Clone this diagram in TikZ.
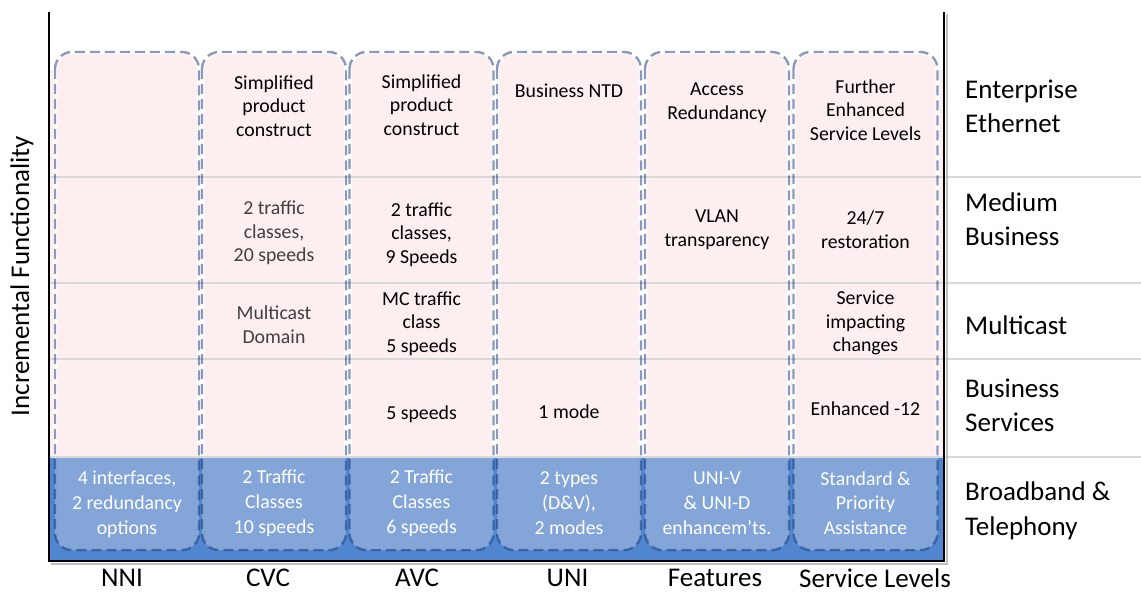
\documentclass[tikz,border=0pt]{standalone}
\usepackage{fontspec}
\setmainfont{Carlito}
\definecolor{pinkc}{RGB}{253,239,239}
\definecolor{bandc}{RGB}{79,134,207}
\definecolor{dashc}{RGB}{20,50,120}
\definecolor{gridc}{RGB}{217,217,217}
\definecolor{greytext}{RGB}{64,64,64}
\newcommand{\cellsize}{\fontsize{19.8pt}{23.5pt}\selectfont}
\newcommand{\bandsize}{\fontsize{19.8pt}{24.8pt}\selectfont}
\newcommand{\bigsize}{\fontsize{27pt}{34.5pt}\selectfont}
\begin{document}
\begin{tikzpicture}[x=1pt,y=-1pt,
  colbox/.style={rectangle, rounded corners=17pt, fill=pinkc, draw=white, line width=4pt,
    inner sep=0pt, outer sep=0pt, minimum width=144pt, minimum height=498pt},
  dashbox/.style={draw=dashc, draw opacity=0.5, line width=2.4pt, dash pattern=on 10pt off 5pt, rounded corners=17pt},
  cell/.style={font=\cellsize, align=center, inner sep=0pt},
  bandtext/.style={font=\bandsize, align=center, inner sep=0pt, text=white},
  rowlabel/.style={font=\bigsize, align=left, anchor=west, inner sep=0pt},
  collabel/.style={font=\bigsize, inner sep=0pt},
  gridline/.style={draw=gridc, line width=1.5pt},
  axisline/.style={draw=black, line width=2.5pt},
  shadowline/.style={draw=black!25, line width=2pt}]
\useasboundingbox (0,0) rectangle (1141,596);
% pink background of upper rows
\fill[pinkc] (50,70) rectangle (943,457);
% column boxes
\node[colbox] (c1) at (127,301) {};
\node[colbox] (c2) at (274,301) {};
\node[colbox] (c3) at (421.5,301) {};
\node[colbox] (c4) at (569,301) {};
\node[colbox] (c5) at (717,301) {};
\node[colbox] (c6) at (865.5,301) {};
% broadband band
\fill[bandc] (50,457) rectangle (943,560);
\begin{scope}
  \clip (50,457) rectangle (943,560);
  \foreach \c in {c1,c2,c3,c4,c5,c6}
    \fill[pinkc, fill opacity=0.3, rounded corners=17pt] (\c.north west) rectangle (\c.south east);
\end{scope}
% grid lines
\draw[gridline] (50,177) -- (1141,177);
\draw[gridline] (50,283) -- (1141,283);
\draw[gridline] (50,359) -- (1141,359);
\draw[gridline] (50,457) -- (1141,457);
% dashed outlines
\foreach \c in {c1,c2,c3,c4,c5,c6}
  \draw[dashbox] (\c.north west) rectangle (\c.south east);
% axes
\coordinate (ytop) at (49,12);
\coordinate (origin) at (49,561);
\coordinate (xend) at (944,561);
\coordinate (rtop) at (944,12);
\coordinate (sh1) at (51,564);
\coordinate (sh2) at (946.5,564);
\coordinate (sh3) at (946.5,14);
\draw[shadowline] (sh1) -- (sh2) -- (sh3);
\draw[axisline] (ytop) -- (origin) -- (xend) -- (rtop);
% row 1
\node[cell] (t12) at (274,106) {Simplified\\product\\construct};
\node[cell] (t13) at (421.5,105) {Simplified\\product\\construct};
\node[cell] (t14) at (569,91) {Business NTD};
\node[cell] (t15) at (717,102.5) {Access\\Redundancy};
\node[cell] (t16) at (865.5,110) {Further\\Enhanced\\Service Levels};
% row 2
\node[cell, text=greytext] (t22) at (274,233) {2 traffic\\classes,\\20 speeds};
\node[cell] (t23) at (421.5,234.5) {2 traffic\\classes,\\9 Speeds};
\node[cell] (t25) at (717,229.5) {VLAN\\transparency};
\node[cell] (t26) at (865.5,229.5) {24/7\\restoration};
% row 3
\node[cell, text=greytext] (t32) at (274,324.5) {Multicast\\Domain};
\node[cell] (t33) at (421.5,323.5) {MC traffic\\class\\5 speeds};
\node[cell] (t36) at (865.5,323) {Service\\impacting\\changes};
% row 4
\node[cell] (t43) at (421.5,414) {5 speeds};
\node[cell] (t44) at (569,412) {1 mode};
\node[cell] (t46) at (865.5,409) {Enhanced -12};
% band texts
\node[bandtext] (b1) at (127,504) {4 interfaces,\\2 redundancy\\options};
\node[bandtext] (b2) at (274,503) {2 Traffic\\Classes\\10 speeds};
\node[bandtext] (b3) at (421.5,503) {2 Traffic\\Classes\\6 speeds};
\node[bandtext] (b4) at (569,503) {2 types\\(D\&V),\\2 modes};
\node[bandtext] (b5) at (717,503) {UNI-V\\\& UNI-D\\enhancem’ts.};
\node[bandtext] (b6) at (865.5,503) {Standard \&\\Priority\\Assistance};
% row labels
\node[rowlabel] (r1) at (965,106.5) {Enterprise\\Ethernet};
\node[rowlabel] (r2) at (965,219) {Medium\\Business};
\node[rowlabel] (r3) at (965,325) {Multicast};
\node[rowlabel] (r4) at (965,405.5) {Business\\Services};
\node[rowlabel] (r5) at (965,511) {Broadband \&\\Telephony};
% column labels
\node[collabel] (l1) at (122,578) {NNI};
\node[collabel] (l2) at (268,578) {CVC};
\node[collabel] (l3) at (417,578) {AVC};
\node[collabel] (l4) at (567.5,578) {UNI};
\node[collabel] (l5) at (715,578) {Features};
\node[collabel] (l6) at (875,578) {Service Levels};
% axis label
\node[collabel, rotate=90] (ylab) at (22,276) {Incremental Functionality};
\end{tikzpicture}
\end{document}
